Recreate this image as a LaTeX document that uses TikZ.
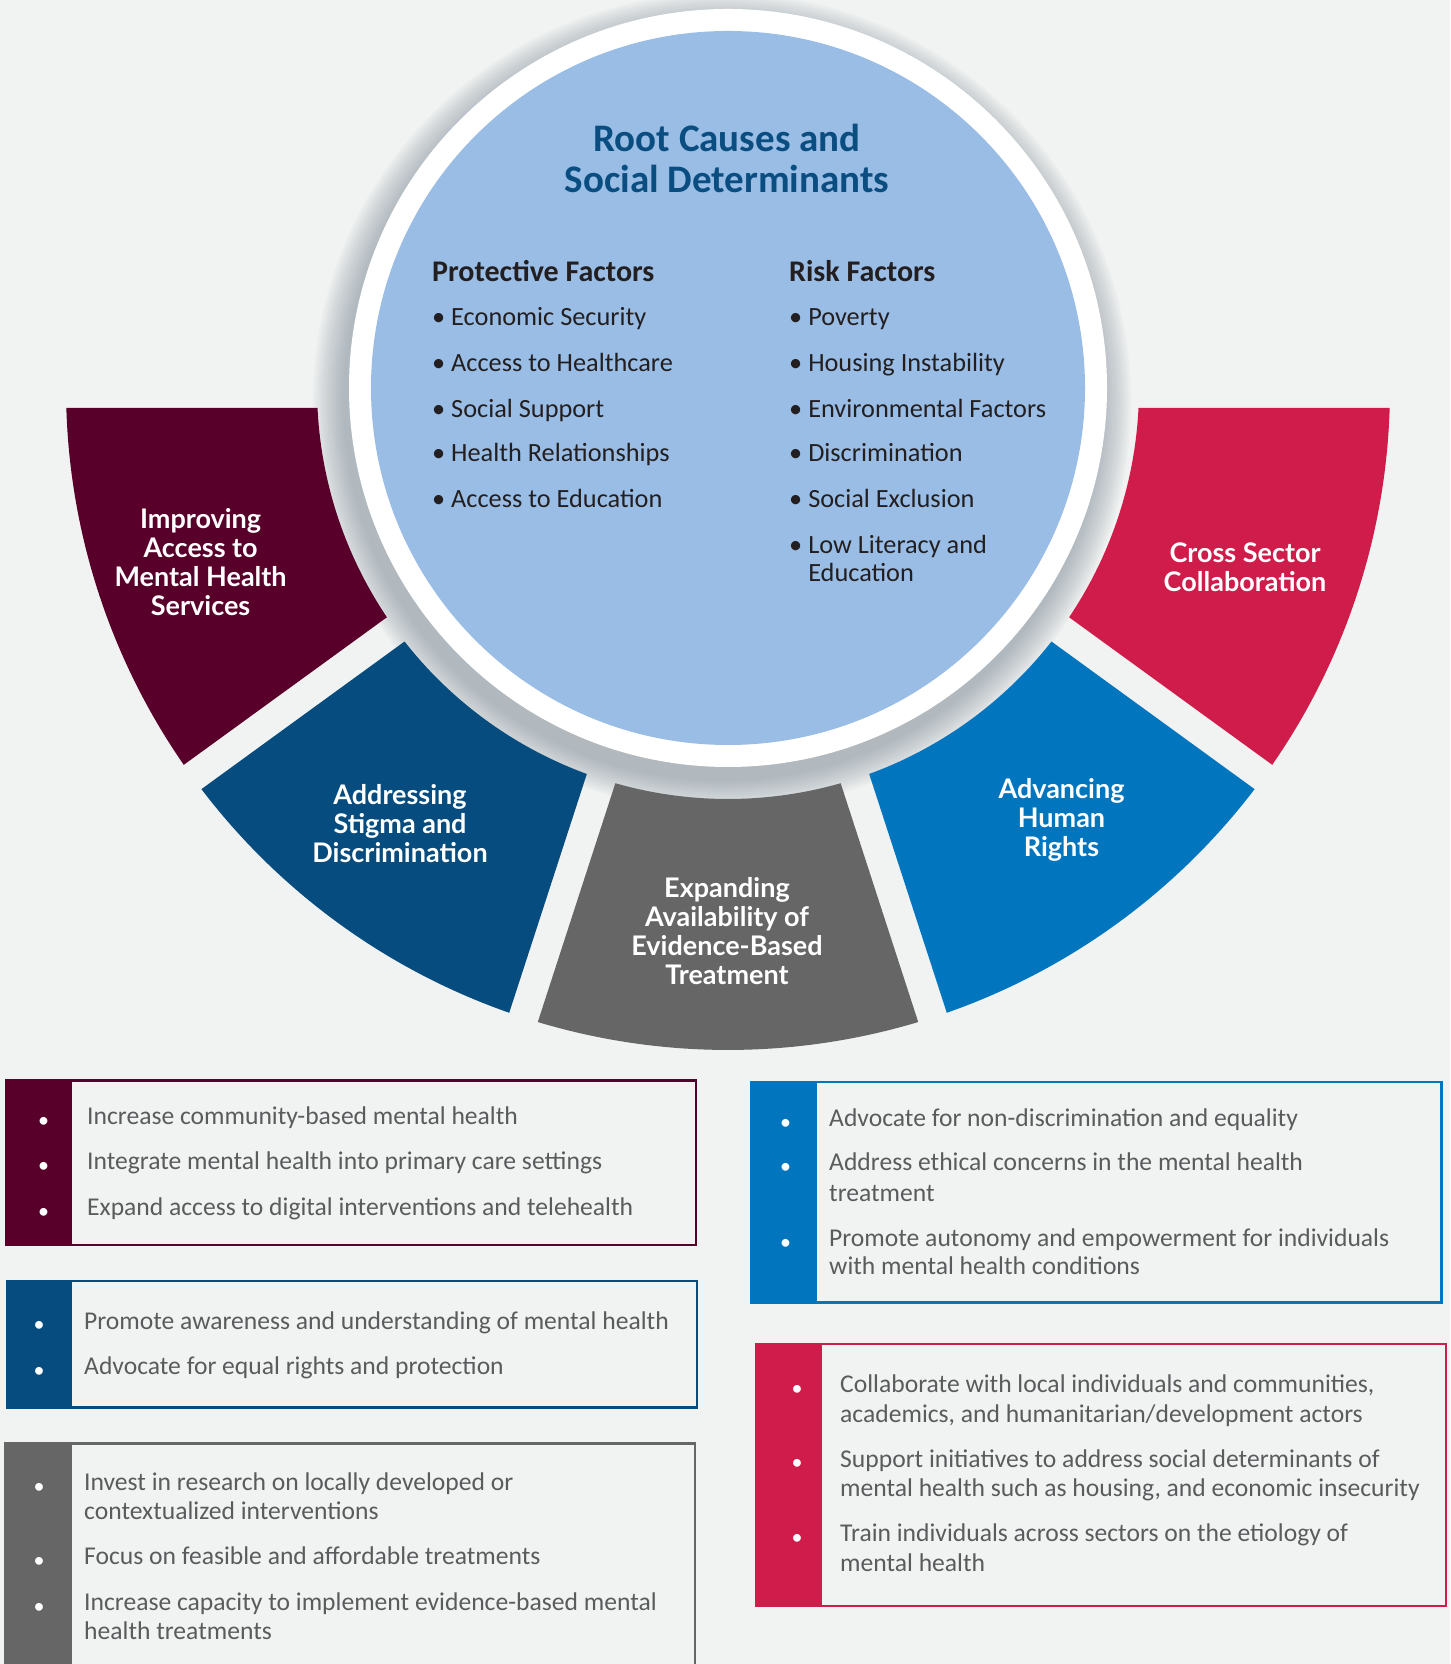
\documentclass[tikz,border=0pt]{standalone}
\usepackage{fontspec}
\setmainfont{Carlito}
\newfontfamily\labelfont{Lato}
\usetikzlibrary{calc}

\definecolor{bg}{HTML}{F1F3F2}
\definecolor{disc}{HTML}{99BDE5}
\definecolor{titleblue}{HTML}{0A4D80}
\definecolor{darktext}{HTML}{231F20}
\definecolor{bodytext}{HTML}{5A5B5D}
\definecolor{improve}{HTML}{58002A}
\definecolor{stigma}{HTML}{064C7E}
\definecolor{expand}{HTML}{666666}
\definecolor{rights}{HTML}{0275BF}
\definecolor{cross}{HTML}{CF1C4A}
\definecolor{shadowc}{HTML}{7E8B99}

\tikzset{
  seglabel/.style={text=white, align=center, inner sep=0pt,
    font=\labelfont\bfseries\fontsize{27}{29}\selectfont},
  heading/.style={anchor=mid west, inner sep=0pt, text=darktext,
    font=\bfseries\fontsize{30}{32}\selectfont},
  factor/.style={anchor=mid west, inner sep=0pt, text=darktext,
    font=\fontsize{26.3}{30}\selectfont},
  boxtext/.style={anchor=mid west, inner sep=0pt, text=bodytext,
    font=\fontsize{25.6}{30}\selectfont},
  boxbullet/.style={inner sep=0pt, text=white,
    font=\fontsize{22}{26}\selectfont},
  actionbox/.style={draw=#1, line width=2.2pt, fill=bg},
}

\begin{document}
\begin{tikzpicture}[x=1pt, y=1pt]
\useasboundingbox (0,0) rectangle (1450,1664);
\clip (0,0) rectangle (1450,1664);
\fill[bg] (0,0) rectangle (1450,1664);

\coordinate (C) at (728,1276);

% soft shadow under the central disc
\foreach \i in {0,...,13}{
  \fill[shadowc, opacity=0.05] ($(C)+(-6,-14)$) circle[radius={379+2.3*\i}];
}

% five ring segments (inner radius 411, outer radius 662)
\fill[improve] ($(C)+(182.79:411)$) arc[start angle=182.79, end angle=213.91, radius=411]
  -- ($(C)+(214.70:662)$) arc[start angle=214.70, end angle=181.73, radius=662] -- cycle;
\fill[stigma] ($(C)+(218.09:411)$) arc[start angle=218.09, end angle=249.91, radius=411]
  -- ($(C)+(250.70:662)$) arc[start angle=250.70, end angle=217.30, radius=662] -- cycle;
\fill[expand] ($(C)+(254.09:411)$) arc[start angle=254.09, end angle=285.91, radius=411]
  -- ($(C)+(286.70:662)$) arc[start angle=286.70, end angle=253.30, radius=662] -- cycle;
\fill[rights] ($(C)+(290.09:411)$) arc[start angle=290.09, end angle=321.91, radius=411]
  -- ($(C)+(322.70:662)$) arc[start angle=322.70, end angle=289.30, radius=662] -- cycle;
\fill[cross] ($(C)+(326.09:411)$) arc[start angle=326.09, end angle=357.21, radius=411]
  -- ($(C)+(358.27:662)$) arc[start angle=358.27, end angle=325.30, radius=662] -- cycle;

% segment labels
\node[seglabel] (labImprove) at (200.6,1101.5) {Improving\\Access to\\Mental Health\\Services};
\node[seglabel] (labStigma) at (400,840.5) {Addressing\\Stigma and\\Discrimination};
\node[seglabel] (labExpand) at (727,733) {Expanding\\Availability of\\Evidence-Based\\Treatment};
\node[seglabel] (labRights) at (1061.5,844) {Advancing\\Human\\Rights};
\node[seglabel] (labCross) at (1245,1096.5) {Cross Sector\\Collaboration};

% central disc
\fill[white] (C) circle[radius=379];
\fill[disc] (C) circle[radius=357];

\node[align=center, inner sep=0pt, text=titleblue,
  font=\bfseries\fontsize{39}{41}\selectfont] (title) at (727,1505.5)
  {Root Causes and\\Social Determinants};

\node[heading] (protH) at (432,1384.6) {Protective Factors};
\node[factor] (p1) at (432,1340.6) {• Economic Security};
\node[factor] (p2) at (432,1294.6) {• Access to Healthcare};
\node[factor] (p3) at (432,1248.6) {• Social Support};
\node[factor] (p4) at (432,1204.6) {• Health Relationships};
\node[factor] (p5) at (432,1158.6) {• Access to Education};

\node[heading] (riskH) at (789,1384.6) {Risk Factors};
\node[factor] (r1) at (789,1340.6) {• Poverty};
\node[factor] (r2) at (789,1294.6) {• Housing Instability};
\node[factor] (r3) at (789,1248.6) {• Environmental Factors};
\node[factor] (r4) at (789,1204.6) {• Discrimination};
\node[factor] (r5) at (789,1158.6) {• Social Exclusion};
\node[factor] (r6) at (789,1112.6) {• Low Literacy and};
\node[factor] (r6b) at (789,1084.6) {\hphantom{• }Education};

% action boxes, left column
\draw[actionbox=improve] (6.4,419) rectangle (696,583.4);
\fill[improve] (5.3,417.9) rectangle (72,584.5);
\node[boxbullet] (b1a) at (43.5,542) {•};
\node[boxbullet] (b1b) at (43.5,496.6) {•};
\node[boxbullet] (b1c) at (43.5,450.6) {•};
\node[boxtext] (t1a) at (87,542) {Increase community-based mental health};
\node[boxtext] (t1b) at (87,496.6) {Integrate mental health into primary care settings};
\node[boxtext] (t1c) at (87,450.6) {Expand access to digital interventions and telehealth};

\draw[actionbox=stigma] (7.4,256.5) rectangle (697,383);
\fill[stigma] (6.3,255.4) rectangle (72,384.1);
\node[boxbullet] (b2a) at (39,337.1) {•};
\node[boxbullet] (b2b) at (39,291.6) {•};
\node[boxtext] (t2a) at (84,337.1) {Promote awareness and understanding of mental health};
\node[boxtext] (t2b) at (84,291.6) {Advocate for equal rights and protection};

\draw[actionbox=expand] (5.3,-20) rectangle (695,220.4);
\fill[expand] (4.2,-21) rectangle (72,221.5);
\node[boxbullet] (b3a) at (39,175.6) {•};
\node[boxbullet] (b3b) at (39,101.6) {•};
\node[boxbullet] (b3c) at (39,55.6) {•};
\node[boxtext] (t3a) at (84,175.6) {Invest in research on locally developed or};
\node[boxtext] (t3a2) at (84,147.1) {contextualized interventions};
\node[boxtext] (t3b) at (84,101.6) {Focus on feasible and affordable treatments};
\node[boxtext] (t3c) at (84,55.6) {Increase capacity to implement evidence-based mental};
\node[boxtext] (t3c2) at (84,27.1) {health treatments};

% action boxes, right column
\draw[actionbox=rights] (751.5,361.5) rectangle (1441.5,582.3);
\fill[rights] (750.4,360.4) rectangle (817,583.4);
\node[boxbullet] (b4a) at (785.5,539.6) {•};
\node[boxbullet] (b4b) at (785.5,495.6) {•};
\node[boxbullet] (b4c) at (785.5,419.6) {•};
\node[boxtext] (t4a) at (829,539.6) {Advocate for non-discrimination and equality};
\node[boxtext] (t4b) at (829,495.6) {Address ethical concerns in the mental health};
\node[boxtext] (t4b2) at (829,464.6) {treatment};
\node[boxtext] (t4c) at (829,419.6) {Promote autonomy and empowerment for individuals};
\node[boxtext] (t4c2) at (829,391.6) {with mental health conditions};

\draw[actionbox=cross] (755.8,58) rectangle (1445.8,320.1);
\fill[cross] (754.7,56.9) rectangle (821.6,321.2);
\node[boxbullet] (b5a) at (797,273.6) {•};
\node[boxbullet] (b5b) at (797,199.1) {•};
\node[boxbullet] (b5c) at (797,124.6) {•};
\node[boxtext] (t5a) at (840,273.6) {Collaborate with local individuals and communities,};
\node[boxtext] (t5a2) at (840,243.6) {academics, and humanitarian/development actors};
\node[boxtext] (t5b) at (840,199.1) {Support initiatives to address social determinants of};
\node[boxtext] (t5b2) at (840,169.6) {mental health such as housing, and economic insecurity};
\node[boxtext] (t5c) at (840,124.6) {Train individuals across sectors on the etiology of};
\node[boxtext] (t5c2) at (840,95.1) {mental health};
\end{tikzpicture}
\end{document}
